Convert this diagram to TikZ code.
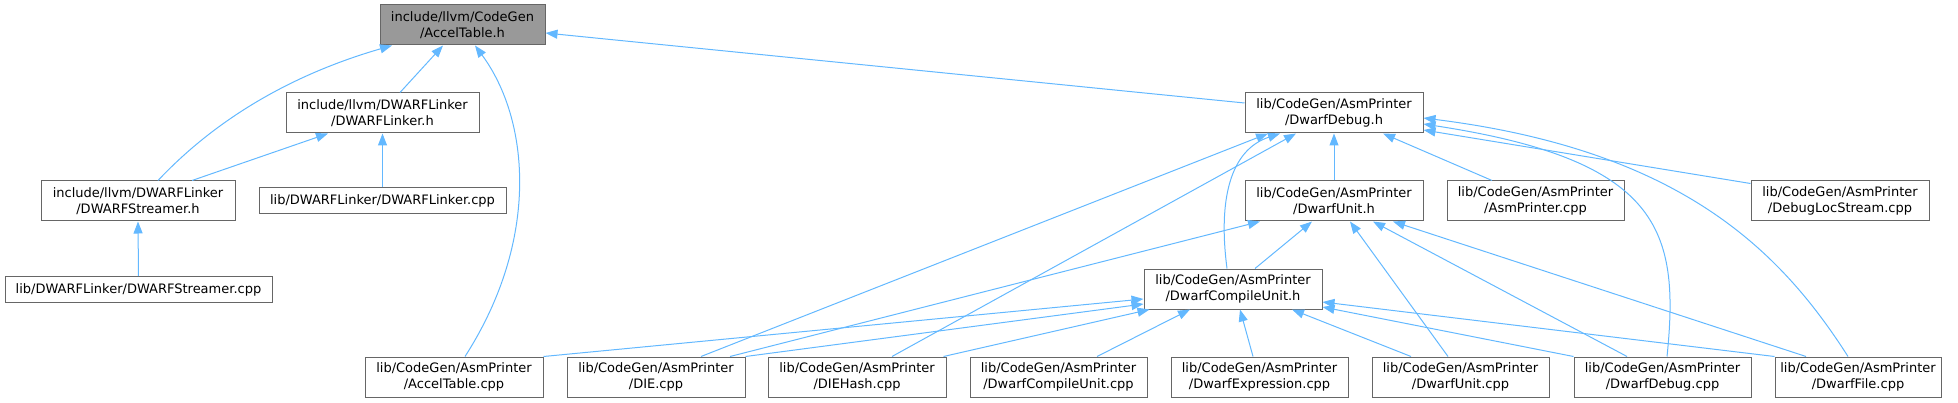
\documentclass[tikz,border=0pt]{standalone}
\usepackage{fontspec}
\setmainfont{DejaVu Sans}
\usetikzlibrary{arrows.meta}
\definecolor{edgeblue}{HTML}{63B8FF}
\definecolor{boxline}{HTML}{666666}
\definecolor{focusfill}{HTML}{999999}
\tikzset{
  box/.style={draw=boxline, fill=white, line width=1pt, inner sep=0pt,
    minimum height=40pt, align=center, text=black,
    font=\fontsize{13pt}{16pt}\selectfont},
  onebox/.style={box, minimum height=26pt},
  edge/.style={draw=edgeblue, line width=1pt,
    -{Triangle[length=12pt,width=9pt,fill=edgeblue]}}
}
\begin{document}
\begin{tikzpicture}[x=1pt,y=-1pt]
\useasboundingbox (0,0) rectangle (1958,403);
% nodes
\node[box, fill=focusfill, minimum width=165pt] (ATh) at (462.5,25) {include/llvm/CodeGen\\/AccelTable.h};
\node[box, minimum width=193pt] (DLh) at (382.5,113) {include/llvm/DWARFLinker\\/DWARFLinker.h};
\node[box, minimum width=194pt] (DSh) at (138,201) {include/llvm/DWARFLinker\\/DWARFStreamer.h};
\node[onebox, minimum width=247pt] (DLcpp) at (382.5,201) {lib/DWARFLinker/DWARFLinker.cpp};
\node[onebox, minimum width=267pt] (DScpp) at (138.5,289.5) {lib/DWARFLinker/DWARFStreamer.cpp};
\node[box, minimum width=178pt] (ATcpp) at (454,377) {lib/CodeGen/AsmPrinter\\/AccelTable.cpp};
\node[box, minimum width=178pt] (DDh) at (1334,113) {lib/CodeGen/AsmPrinter\\/DwarfDebug.h};
\node[box, minimum width=178pt] (DUh) at (1334,201) {lib/CodeGen/AsmPrinter\\/DwarfUnit.h};
\node[box, minimum width=177pt] (APcpp) at (1535.5,201) {lib/CodeGen/AsmPrinter\\/AsmPrinter.cpp};
\node[box, minimum width=178pt] (DLScpp) at (1840,201) {lib/CodeGen/AsmPrinter\\/DebugLocStream.cpp};
\node[box, minimum width=178pt] (DCUh) at (1233,289) {lib/CodeGen/AsmPrinter\\/DwarfCompileUnit.h};
\node[box, minimum width=178pt] (DIEcpp) at (656,377) {lib/CodeGen/AsmPrinter\\/DIE.cpp};
\node[box, minimum width=178pt] (DIEHcpp) at (857,377) {lib/CodeGen/AsmPrinter\\/DIEHash.cpp};
\node[box, minimum width=177pt] (DCUcpp) at (1058.5,377) {lib/CodeGen/AsmPrinter\\/DwarfCompileUnit.cpp};
\node[box, minimum width=177pt] (DEcpp) at (1259.5,377) {lib/CodeGen/AsmPrinter\\/DwarfExpression.cpp};
\node[box, minimum width=177pt] (DUcpp) at (1460.5,377) {lib/CodeGen/AsmPrinter\\/DwarfUnit.cpp};
\node[box, minimum width=177pt] (DDcpp) at (1662.5,377) {lib/CodeGen/AsmPrinter\\/DwarfDebug.cpp};
\node[box, minimum width=166pt] (DFcpp) at (1858,377) {lib/CodeGen/AsmPrinter\\/DwarfFile.cpp};
% edges to AccelTable.h
\draw[edge] ([xshift=17.5pt]DLh.north) -- ([xshift=-19.5pt]ATh.south);
\draw[edge] ([xshift=20pt]DSh.north) .. controls (215,120) and (290,75) .. ([xshift=-70.5pt]ATh.south);
\draw[edge] ([xshift=11pt]ATcpp.north) .. controls (540,240) and (530,120) .. ([xshift=12.5pt]ATh.south);
\draw[edge] ([yshift=10pt]DDh.west) -- ([yshift=-8pt]ATh.east);
% DWARFLinker / Streamer
\draw[edge] ([xshift=54pt]DSh.north) -- ([xshift=-54.5pt]DLh.south);
\draw[edge] (DLcpp.north) -- (DLh.south);
\draw[edge] (DScpp.north) -- (DSh.south);
% edges to DwarfDebug.h
\draw[edge] (DUh.north) -- (DDh.south);
\draw[edge] ([xshift=-43.5pt]APcpp.north) -- ([xshift=49pt]DDh.south);
\draw[edge] ([yshift=-3pt]DLScpp.north west) -- ([yshift=-17pt]DDh.east);
\draw[edge] ([xshift=-6pt]DCUh.north) .. controls (1218,200) and (1230,150) .. ([xshift=-54pt]DDh.south);
\draw[edge] ([xshift=45pt]DIEcpp.north) -- ([xshift=-66pt]DDh.south);
\draw[edge] ([xshift=35pt]DIEHcpp.north) -- ([xshift=-38pt]DDh.south);
\draw[edge] ([xshift=4.5pt]DDcpp.north) .. controls (1680,230) and (1660,160) .. ([yshift=-11pt]DDh.east);
\draw[edge] ([xshift=-10pt]DFcpp.north) .. controls (1780,250) and (1680,150) .. ([yshift=-5pt]DDh.east);
% edges to DwarfUnit.h
\draw[edge] ([xshift=22pt]DCUh.north) -- ([xshift=-22pt]DUh.south);
\draw[edge] ([xshift=74pt]DIEcpp.north) -- ([xshift=-74pt]DUh.south);
\draw[edge] ([xshift=-12.5pt]DUcpp.north) -- ([xshift=16pt]DUh.south);
\draw[edge] ([xshift=-35.5pt]DDcpp.north) -- ([xshift=39pt]DUh.south);
\draw[edge] ([xshift=-52pt]DFcpp.north) -- ([xshift=59pt]DUh.south);
% edges to DwarfCompileUnit.h
\draw[edge] (ATcpp.north east) -- ([yshift=-10pt]DCUh.west);
\draw[edge] (DIEcpp.north east) -- ([yshift=-15pt]DCUh.west);
\draw[edge] ([xshift=-3pt]DIEHcpp.north east) -- ([xshift=6pt]DCUh.south west);
\draw[edge] ([xshift=38.5pt]DCUcpp.north) -- ([xshift=-43pt]DCUh.south);
\draw[edge] ([xshift=-6.5pt]DEcpp.north) -- ([xshift=7pt]DCUh.south);
\draw[edge] ([xshift=-49.5pt]DUcpp.north) -- ([xshift=59pt]DCUh.south);
\draw[edge] (DDcpp.north west) -- ([yshift=-18pt]DCUh.east);
\draw[edge] (DFcpp.north west) -- ([yshift=-13pt]DCUh.east);
\end{tikzpicture}
\end{document}
